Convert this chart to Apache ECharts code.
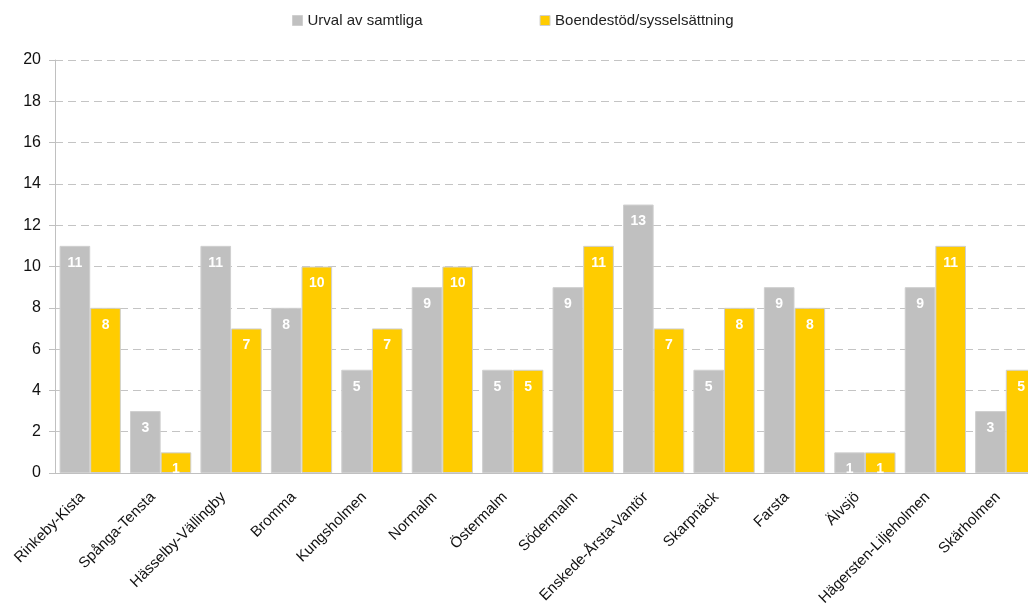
<!DOCTYPE html>
<html>
<head>
<meta charset="utf-8">
<script src="https://cdn.jsdelivr.net/npm/echarts@6/dist/echarts.min.js"></script>
<style>
  html, body { margin: 0; padding: 0; background: #ffffff; }
  #chart { width: 1028px; height: 606px; }
</style>
</head>
<body>
<div id="chart"></div>
<script>
// Stadsdelar
const districts = [
  'Rinkeby-Kista', 'Spånga-Tensta', 'Hässelby-Vällingby', 'Bromma', 'Kungsholmen',
  'Normalm', 'Östermalm', 'Södermalm', 'Enskede-Årsta-Vantör', 'Skarpnäck',
  'Farsta', 'Älvsjö', 'Hägersten-Liljeholmen', 'Skärholmen'
];
const seriesNames = ['Urval av samtliga', 'Boendestöd/sysselsättning'];
const urval = [11, 3, 11, 8, 5, 9, 5, 9, 13, 5, 9, 1, 9, 3];
const boendestod = [8, 1, 7, 10, 7, 10, 5, 11, 7, 8, 8, 1, 11, 5];
const yTicks = { min: 0, max: 20, interval: 2 };

const FONT = '"Liberation Sans", Arial, sans-serif';

const valueLabel = {
  show: true,
  position: 'insideTop',
  distance: 10,
  color: '#ffffff',
  fontWeight: 'bold',
  fontSize: 14,
  fontFamily: FONT
};

const chart = echarts.init(document.getElementById('chart'), null, { renderer: 'canvas' });
chart.setOption({
  animation: false,
  backgroundColor: '#ffffff',
  textStyle: { fontFamily: FONT },
  legend: {
    top: 13,
    left: 292,
    padding: 0,
    itemWidth: 10,
    itemHeight: 10,
    itemGap: 117,
    icon: 'rect',
    itemStyle: { borderColor: '#cfcfcf', borderWidth: 1 },
    textStyle: { fontSize: 15, color: '#222222', fontFamily: FONT },
    data: seriesNames
  },
  // the plot runs past the right edge of the canvas
  grid: { left: 55, top: 60, width: 986, height: 413, containLabel: false, outerBoundsMode: 'none' },
  xAxis: {
    type: 'category',
    data: districts,
    axisLine: { show: true, lineStyle: { color: '#c0c0c0', width: 1 } },
    axisTick: { show: false },
    axisLabel: {
      interval: 0,
      rotate: 45,
      margin: 14,
      padding: [0, 11, 0, 0],
      fontSize: 15,
      color: '#111111',
      fontFamily: FONT
    }
  },
  yAxis: {
    type: 'value',
    min: yTicks.min,
    max: yTicks.max,
    interval: yTicks.interval,
    axisLine: { show: true, lineStyle: { color: '#c0c0c0', width: 1 } },
    axisTick: { show: true, length: 6, lineStyle: { color: '#c0c0c0' } },
    axisLabel: { fontSize: 16, color: '#111111', margin: 14, fontFamily: FONT },
    splitLine: { show: true, lineStyle: { color: '#c4c4c4', type: [8, 5], width: 1 } }
  },
  series: [
    {
      name: seriesNames[0],
      type: 'bar',
      data: urval,
      barGap: '0%',
      barCategoryGap: '13%',
      itemStyle: { color: '#c0c0c0', borderColor: '#cfcfcf', borderWidth: 1 },
      label: valueLabel
    },
    {
      name: seriesNames[1],
      type: 'bar',
      data: boendestod,
      itemStyle: { color: '#ffcc00', borderColor: '#cfcfcf', borderWidth: 1 },
      label: valueLabel
    }
  ]
});
</script>
</body>
</html>
